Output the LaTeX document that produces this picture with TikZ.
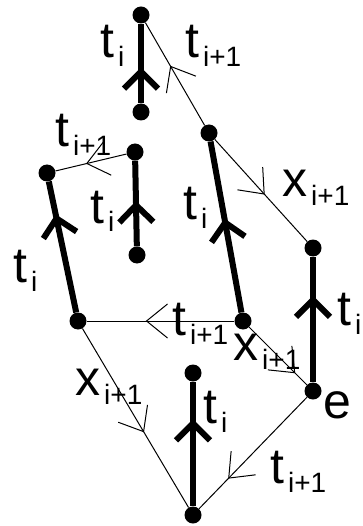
\documentclass[tikz,border=0pt]{standalone}
\usepackage{fontspec}
\setmainfont{Liberation Sans}
\usetikzlibrary{arrows.meta,decorations.markings}
\newcommand{\lab}[2]{#1\kern4pt\raisebox{-9pt}{\fontsize{28}{30}\selectfont #2}}

\begin{document}
\begin{tikzpicture}[x=1pt,y=-1pt,
  tedge/.style={line width=1pt, decoration={markings,
      mark=at position #1 with {\arrow{Straight Barb[length=21pt,width=34pt]}}},
    postaction={decorate}},
  bedge/.style={line width=6pt, decoration={markings,
      mark=at position #1 with {\arrow{Straight Barb[length=17pt,width=34pt]}}},
    postaction={decorate}}]
\tikzstyle{dot} = [circle, fill, inner sep=0pt, minimum size=17pt]
\tikzstyle{lbl} = [anchor=base west, inner sep=0pt, font=\fontsize{50}{54}\selectfont]
\useasboundingbox (0,0) rectangle (363,526);

% the dots
\node[dot] (tt) at (141,15) {};
\node[dot] (tb) at (141,112) {};
\node[dot] (a) at (209,133) {};
\node[dot] (b) at (313,248) {};
\node[dot] (e) at (313,391) {};
\node[dot] (c) at (243,321) {};
\node[dot] (d) at (78,321) {};
\node[dot] (f) at (47,173) {};
\node[dot] (g) at (135,152) {};
\node[dot] (h) at (137,255) {};
\node[dot] (bot) at (193,515) {};
\node[dot] (m) at (193,373) {};

\draw[bedge=0.45] (tb) -- (tt);
\draw[tedge=0.58] (a) -- (tt);
\draw[tedge=0.54] (a) -- (b);
\draw[bedge=0.55] (c) -- (a);
\draw[bedge=0.69] (e) -- (b);
\draw[tedge=0.57] (g) -- (f);
\draw[bedge=0.53] (h) -- (g);
\draw[bedge=0.75] (d) -- (f);
\draw[tedge=0.6] (c) -- (d);
\draw[tedge=0.8] (c) -- (e);
\draw[tedge=0.58] (d) -- (bot);
\draw[tedge=0.73] (e) -- (bot);
\draw[bedge=0.70] (bot) -- (m);

% labels
\node[lbl] (l1) at (100,58) {\lab{t}{i}};
\node[lbl] (l2) at (185,58) {\lab{t}{i+1}};
\node[lbl] (l3) at (55,147) {\lab{t}{i+1}};
\node[lbl] (l4) at (282,197) {\lab{x}{i+1}};
\node[lbl] (l5) at (90,223) {\lab{t}{i}};
\node[lbl] (l6) at (183,220) {\lab{t}{i}};
\node[lbl] (l7) at (13,282) {\lab{t}{i}};
\node[lbl] (l8) at (337,325) {\lab{t}{i}};
\node[lbl] (l9) at (172,335) {\lab{t}{i+1}};
\node[lbl] (l10) at (233,360) {\lab{x}{i+1}};
\node[lbl] (l11) at (75,395) {\lab{x}{i+1}};
\node[lbl] (l12) at (203,423) {\lab{t}{i}};
\node[lbl] (l13) at (323,418) {e};
\node[lbl] (l14) at (270,483) {\lab{t}{i+1}};
\end{tikzpicture}
\end{document}
